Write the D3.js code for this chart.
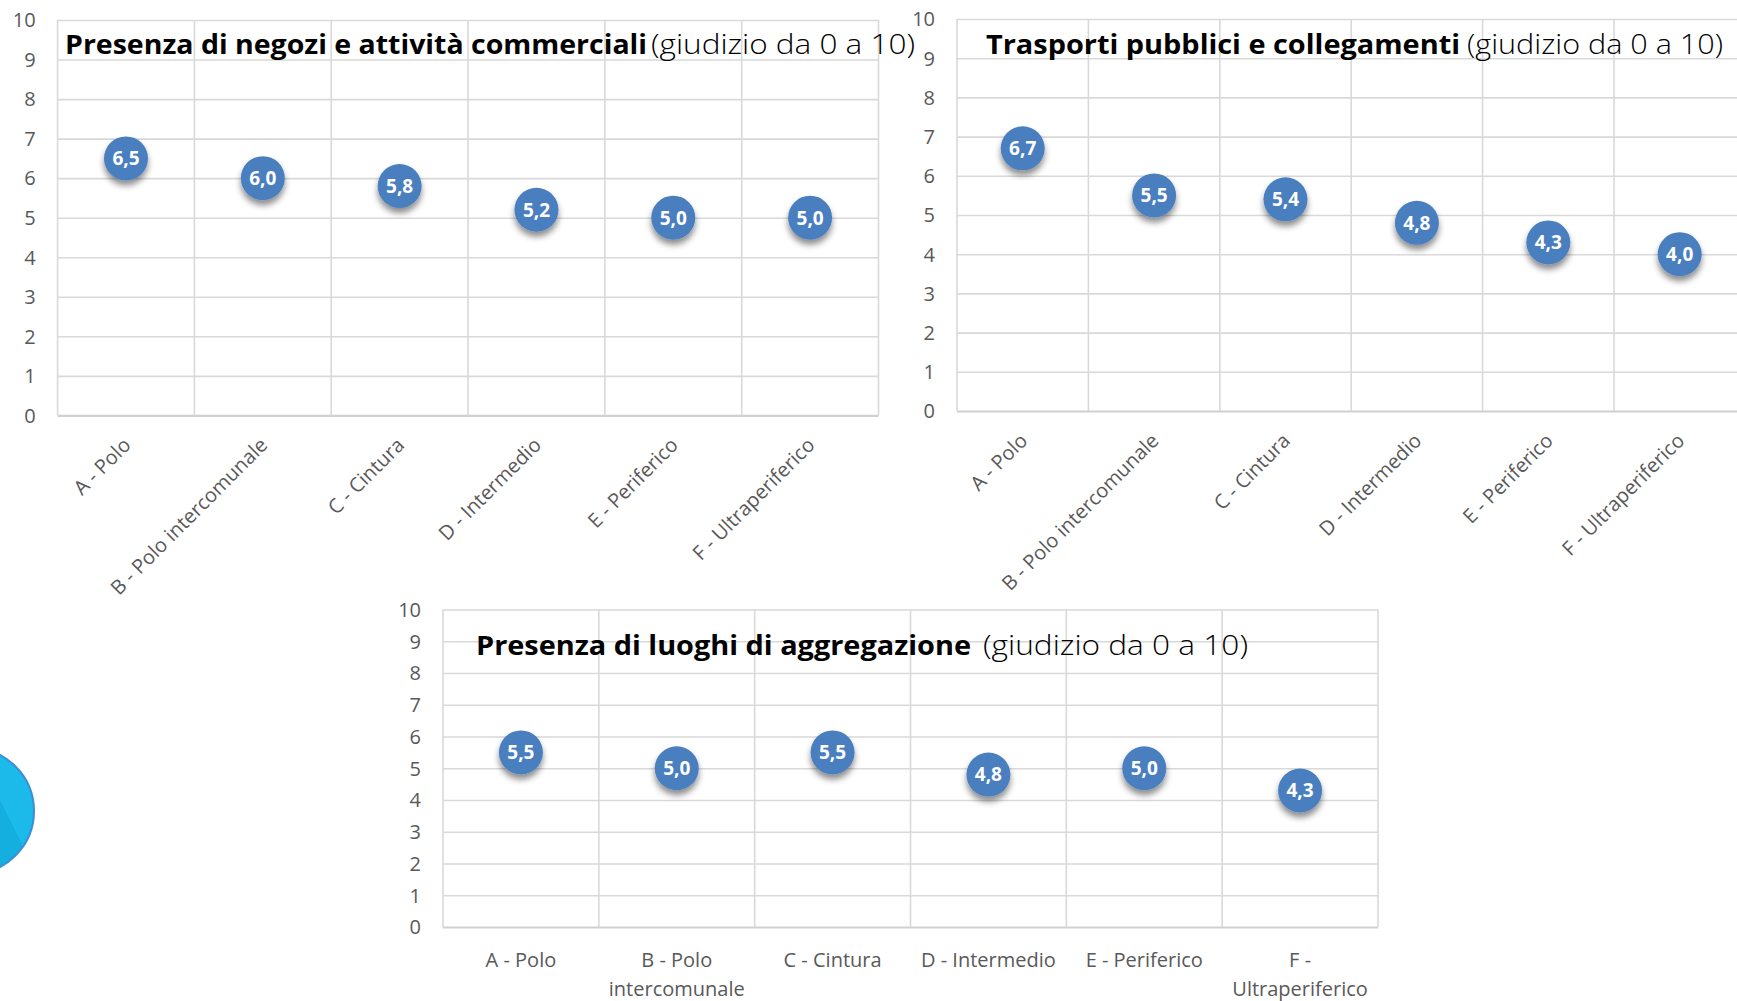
<!DOCTYPE html>
<html>
<head>
<meta charset="utf-8">
<script src="https://cdn.jsdelivr.net/npm/d3@7/dist/d3.min.js"></script>
<style>
  html, body { margin: 0; padding: 0; background: #ffffff; }
  svg { display: block; }
</style>
</head>
<body>
<svg id="chart" width="1737" height="1001"></svg>
<script>
// ---------------- DATA ----------------
const categories = ["A - Polo", "B - Polo intercomunale", "C - Cintura", "D - Intermedio", "E - Periferico", "F - Ultraperiferico"];
const categoryLinesWrapped = [["A - Polo"], ["B - Polo", "intercomunale"], ["C - Cintura"], ["D - Intermedio"], ["E - Periferico"], ["F -", "Ultraperiferico"]];
const valuesNegozi = [6.5, 6.0, 5.8, 5.2, 5.0, 5.0];
const valuesTrasporti = [6.7, 5.5, 5.4, 4.8, 4.3, 4.0];
const valuesAggregazione = [5.5, 5.0, 5.5, 4.8, 5.0, 4.3];
const yTicks = [0, 1, 2, 3, 4, 5, 6, 7, 8, 9, 10];
const titlesBold = ["Presenza di negozi e attività commerciali", "Trasporti pubblici e collegamenti", "Presenza di luoghi di aggregazione"];
const titleSuffix = "(giudizio da 0 a 10)";

// ---------------- LAYOUT ----------------
const panels = [
  { values: valuesNegozi, title: titlesBold[0], left: 57.6, right: 878.5, top: 20, bottom: 415.4, rotated: true,
    boldX: [65, 647], regX: [651, 915], titleY: 54 },
  { values: valuesTrasporti, title: titlesBold[1], left: 957, right: 1745.4, top: 19, bottom: 411, rotated: true,
    boldX: [986, 1460], regX: [1467, 1723], titleY: 54 },
  { values: valuesAggregazione, title: titlesBold[2], left: 443, right: 1378, top: 609.5, bottom: 927, rotated: false,
    boldX: [476, 971], regX: [983, 1248], titleY: 655 }
];

const svg = d3.select("#chart");
const locale = d3.formatLocale({ decimal: ",", thousands: ".", grouping: [3], currency: ["€", ""] });
const fmt = locale.format(".1f");

const gridColor = "#d9d9d9";
const textColor = "#595959";
const axisFont = "'Open Sans', 'Lato', sans-serif";

// decorative partial circle at left edge
const defs = svg.append("defs");
const f = defs.append("filter").attr("id", "shadow").attr("x", "-50%").attr("y", "-50%").attr("width", "200%").attr("height", "200%");
f.append("feDropShadow").attr("dx", 0).attr("dy", 5).attr("stdDeviation", 3)
  .attr("flood-color", "#000").attr("flood-opacity", 0.45);
defs.append("clipPath").attr("id", "decoClip").append("circle").attr("cx", -29).attr("cy", 811).attr("r", 63);
const deco = svg.append("g");
deco.append("circle").attr("cx", -29).attr("cy", 811).attr("r", 63).attr("fill", "#1cb9eb");
deco.append("path").attr("clip-path", "url(#decoClip)")
  .attr("d", "M-100,790 L0,800 L40,880 L-100,900 Z").attr("fill", "#14aedf");
deco.append("circle").attr("cx", -29).attr("cy", 811).attr("r", 63)
  .attr("fill", "none").attr("stroke", "#3b8fd3").attr("stroke-width", 2);

panels.forEach(p => {
  const g = svg.append("g");
  const x = d3.scaleBand().domain(categories).range([p.left, p.right]).padding(0);
  const y = d3.scaleLinear().domain([0, 10]).range([p.bottom, p.top]);
  const w = p.right - p.left;

  // horizontal gridlines + y tick labels
  const yAxis = d3.axisLeft(y).tickValues(yTicks).tickFormat(d3.format("d")).tickSize(-w).tickPadding(22);
  const ya = g.append("g").attr("transform", `translate(${p.left},0)`).call(yAxis);
  ya.select(".domain").remove();
  ya.selectAll(".tick line").attr("stroke", gridColor).attr("stroke-width", 1.6);
  ya.selectAll(".tick text").attr("fill", textColor).attr("font-family", axisFont)
    .attr("font-size", 20).attr("dy", "0.34em");
  ya.selectAll(".tick").filter(d => d === 0).select("line").attr("stroke", "#d0d0d0").attr("stroke-width", 2.2);

  // vertical gridlines (band boundaries)
  const bounds = categories.map(c => x(c)).concat([p.right]);
  g.append("g").selectAll("line").data(bounds).join("line")
    .attr("x1", d => d).attr("x2", d => d)
    .attr("y1", y(10)).attr("y2", y(0))
    .attr("stroke", gridColor).attr("stroke-width", 1.6);

  // x axis labels
  const xAxis = d3.axisBottom(x).tickSize(0);
  const xa = g.append("g").attr("transform", `translate(0,${p.bottom})`).call(xAxis);
  xa.select(".domain").remove();
  if (p.rotated) {
    xa.selectAll(".tick text")
      .attr("fill", textColor).attr("font-family", axisFont).attr("font-size", 20)
      .attr("x", 0).attr("y", 0).attr("dy", "0.35em")
      .attr("text-anchor", "end")
      .attr("transform", "translate(1,26) rotate(-45)");
  } else {
    xa.selectAll(".tick text").each(function(d, i) {
      const t = d3.select(this);
      t.text(null).attr("fill", textColor).attr("font-family", axisFont).attr("font-size", 20)
        .attr("y", 0).attr("dy", 0).attr("text-anchor", "middle");
      categoryLinesWrapped[i].forEach((line, k) => {
        t.append("tspan").attr("x", 0).attr("y", 40 + k * 29).text(line);
      });
    });
  }

  // title
  g.append("text").attr("x", p.boldX[0]).attr("y", p.titleY)
    .attr("font-family", "'Open Sans', 'Lato', sans-serif").attr("font-weight", 700).attr("font-size", 26)
    .attr("fill", "#000").attr("textLength", p.boldX[1] - p.boldX[0]).attr("lengthAdjust", "spacingAndGlyphs")
    .text(p.title);
  g.append("text").attr("x", p.regX[0]).attr("y", p.titleY)
    .attr("font-family", "'Open Sans', 'Lato', sans-serif").attr("font-weight", 300).attr("font-size", 27)
    .attr("fill", "#000").attr("textLength", p.regX[1] - p.regX[0]).attr("lengthAdjust", "spacingAndGlyphs")
    .text(titleSuffix);

  // points
  const pts = g.append("g").selectAll("g").data(p.values).join("g")
    .attr("transform", (d, i) => `translate(${x(categories[i]) + x.bandwidth() / 2},${y(d)})`);
  pts.append("circle").attr("r", 22).attr("fill", "#4a7ebf").attr("filter", "url(#shadow)");
  pts.append("text").attr("text-anchor", "middle").attr("dy", "0.36em")
    .attr("font-family", axisFont).attr("font-weight", 700).attr("font-size", 19)
    .attr("fill", "#ffffff").text(d => fmt(d));
});
</script>
</body>
</html>
